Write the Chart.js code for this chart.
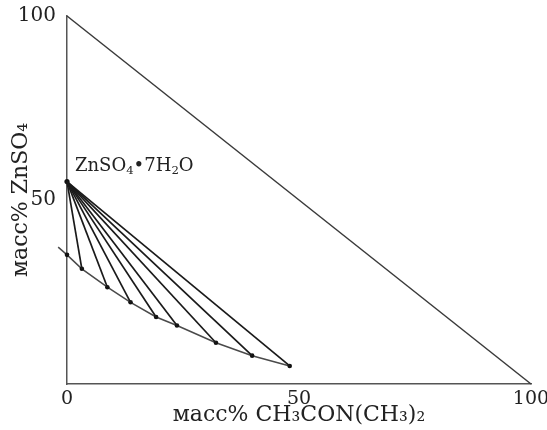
<!DOCTYPE html>
<html lang="ru">
<head>
<meta charset="UTF-8">
<title>ZnSO4 - CH3CON(CH3)2 - H2O</title>
<script src="https://cdn.jsdelivr.net/npm/chart.js"></script>
<style>
  html, body { margin: 0; padding: 0; background: #fff; }
  #box { width: 547px; height: 430px; }
</style>
</head>
<body>
<div id="box"><canvas id="diagram"></canvas></div>
<script>
// solubility curve (mass %), first point is the short tail left of the axis
const curveX = [-1.9, 0, 3.2, 8.7, 13.7, 19.2, 23.7, 32.1, 39.9, 48.0];
const curveY = [37.2, 35.1, 31.3, 26.3, 22.2, 18.2, 15.9, 11.2, 7.7, 4.9];
// solid phase ZnSO4*7H2O
const hydrateX = 0;
const hydrateY = 55;
// tie lines go from the hydrate to these curve points
const tieIndex = [2, 3, 4, 5, 6, 7, 8, 9];
// triangle side water - amide
const sideX = [0, 100];
const sideY = [100, 0];
const xTicks = [0, 50, 100];
const yTicks = [50, 100];

const serif = 'DejaVu Serif';

const datasets = [];

datasets.push({
    data: sideX.map((x, i) => ({ x: x, y: sideY[i] })),
    showLine: true,
    borderColor: '#3a3a3a',
    borderWidth: 1.5,
    pointRadius: 0,
    clip: false
});

tieIndex.forEach(i => {
    datasets.push({
        data: [{ x: hydrateX, y: hydrateY }, { x: curveX[i], y: curveY[i] }],
        showLine: true,
        borderColor: '#1a1a1a',
        borderWidth: 1.7,
        pointRadius: 0,
        clip: false
    });
});

datasets.push({
    data: curveX.map((x, i) => ({ x: x, y: curveY[i] })),
    showLine: true,
    borderColor: '#4a4a4a',
    borderWidth: 1.5,
    pointRadius: curveX.map((x, i) => i === 0 ? 0 : 2.3),
    pointBackgroundColor: '#111',
    pointBorderWidth: 0,
    clip: false
});

datasets.push({
    data: [{ x: hydrateX, y: hydrateY }],
    pointRadius: 2.6,
    pointBackgroundColor: '#111',
    pointBorderWidth: 0,
    clip: false
});

// label with subscripts next to the hydrate point
function drawSubText(ctx, parts, x, y, size) {
    let cx = x;
    parts.forEach(p => {
        const sub = p[1];
        ctx.font = (sub ? size * 0.65 : size) + 'px "' + serif + '"';
        ctx.fillText(p[0], cx, sub ? y + size * 0.25 : y);
        cx += ctx.measureText(p[0]).width;
    });
}

const hydrateLabel = {
    id: 'hydrateLabel',
    afterDatasetsDraw(chart) {
        const ctx = chart.ctx;
        const px = chart.scales.x.getPixelForValue(hydrateX);
        const py = chart.scales.y.getPixelForValue(hydrateY);
        ctx.save();
        ctx.fillStyle = '#222';
        ctx.textBaseline = 'middle';
        drawSubText(ctx, [['ZnSO', 0], ['4', 1], ['\u2022', 0], ['7H', 0], ['2', 1], ['O', 0]],
            px + 8, py - 15, 18);
        ctx.restore();
    }
};

new Chart(document.getElementById('diagram'), {
    type: 'scatter',
    data: { datasets: datasets },
    options: {
        responsive: true,
        maintainAspectRatio: false,
        animation: false,
        layout: { padding: { left: 0, right: 16, top: 16, bottom: 0 } },
        plugins: {
            legend: { display: false },
            tooltip: { enabled: false }
        },
        scales: {
            x: {
                type: 'linear',
                min: 0,
                max: 100,
                afterBuildTicks: s => { s.ticks = xTicks.map(v => ({ value: v })); },
                afterFit: s => { s.height = 46; s.paddingRight = 0; },
                grid: { display: false },
                border: { display: true, color: '#555', width: 1.5 },
                ticks: { color: '#222', padding: -4, font: { family: serif, size: 19 } },
                title: {
                    display: true,
                    text: 'масс% CH₃CON(CH₃)₂',
                    color: '#222',
                    padding: { top: -6, bottom: 2 },
                    font: { family: serif, size: 22 }
                }
            },
            y: {
                type: 'linear',
                min: 0,
                max: 100,
                afterBuildTicks: s => { s.ticks = yTicks.map(v => ({ value: v })); },
                afterFit: s => { s.width = 67; },
                grid: { display: false },
                border: { display: true, color: '#555', width: 1.5 },
                ticks: { color: '#222', padding: 3, font: { family: serif, size: 20 } },
                title: {
                    display: true,
                    text: 'масс% ZnSO₄',
                    color: '#222',
                    padding: { top: 8, bottom: 0 },
                    font: { family: serif, size: 22 }
                }
            }
        }
    },
    plugins: [hydrateLabel]
});
</script>
</body>
</html>
